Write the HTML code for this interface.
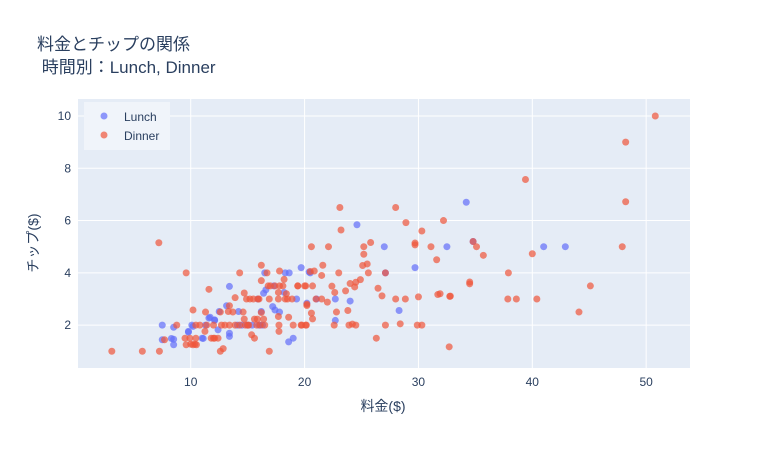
<!DOCTYPE html>
<html><head><meta charset="utf-8">
<style>
html,body{margin:0;padding:0;background:#fff;}
svg text{font-family:"Liberation Sans","Noto Sans CJK JP",sans-serif;fill:#2a3f5f;}
</style></head>
<body>
<svg id="chart" width="765" height="448" xmlns="http://www.w3.org/2000/svg">
  <rect width="765" height="448" fill="#fff"/>
  <text x="37" y="50" font-size="17">料金とチップの関係</text>
  <text x="37" y="73" font-size="17">&#160;時間別：Lunch, Dinner</text>
  <rect x="78" y="99" width="612" height="269" fill="#e5ecf6"/>
  <g id="grid"></g>
  <g id="marks"></g>
  <g id="ticks"></g>
  <text x="383" y="411" font-size="14" text-anchor="middle">料金($)</text>
  <text transform="translate(38,243) rotate(-90)" font-size="14" text-anchor="middle">チップ($)</text>
  <g>
    <rect x="84" y="102" width="86" height="48" fill="#f0f4fa"/>
    <g>
      <circle cx="104" cy="116" r="3.5" fill="#636efa" opacity="0.7"/>
      <text x="124" y="121" font-size="12">Lunch</text>
    </g>
    <g>
      <circle cx="104" cy="135" r="3.5" fill="#EF553B" opacity="0.7"/>
      <text x="124" y="140" font-size="12">Dinner</text>
    </g>
  </g>
</svg>
<script>
const xTicks = [10, 20, 30, 40, 50];
const yTicks = [2, 4, 6, 8, 10];
const lunchBill = [34.2,32.5,34.8,41.0,42.9,24.6,27.0,29.7,19.7,27.1,22.7,24.0,28.3,22.7,19.0,18.6,13.4,16.5,18.3,18.65,20.4,20.5,18.2,16.6,16.4,15.9,13.15,12.5,14.2,16.2,17.2,17.4,19.3,20.2,10.1,9.8,11.3,11.6,12.1,12.4,13.4,13.4,15.4,16.3,14.5,11.0,21.05,7.5,7.5,8.3,8.5,8.5,8.5,9.8,10.2,11.1,11.7,12.1,14.1,15.0,17.3,16.0,17.8];
const lunchTip  = [6.7,5.0,5.2,5.0,5.0,5.84,5.0,4.2,4.2,4.0,3.0,2.92,2.56,2.18,1.5,1.36,3.48,4.0,4.0,4.0,4.03,4.0,3.25,3.35,3.22,3.0,2.74,2.52,2.52,2.52,2.71,2.58,3.0,2.84,2.0,1.76,2.0,2.27,2.18,1.82,1.69,1.57,2.0,2.0,2.0,1.5,3.0,2.0,1.44,1.49,1.46,1.25,1.92,1.73,1.95,1.49,2.3,2.2,2.0,2.0,3.5,2.0,2.5];
const dinnerBill = [50.8,48.2,39.4,48.2,32.2,34.8,35.1,35.7,47.9,40.0,37.9,34.5,34.5,32.8,31.9,37.85,38.6,40.4,45.1,44.1,32.7,
 23.1,28.0,23.2,28.9,30.3,29.7,29.7,31.1,31.6,20.6,22.1,25.2,25.8,25.2,25.1,25.5,21.6,25.6,23.0,27.1,20.5,20.85,21.5,24.9,24.5,24.0,24.4,26.45,26.8,23.6,22.4,22.65,22.0,28.0,28.85,30.0,31.7,32.75,23.8,22.6,23.9,24.2,24.5,27.1,28.4,29.9,30.3,26.3,19.7,20.15,16.9,20.6,20.7,20.2,20.2,19.4,20.1,
 9.6,14.3,16.2,16.7,17.8,16.2,11.6,17.0,17.4,17.8,18.1,18.2,14.7,14.9,15.2,15.5,15.9,13.9,16.9,17.7,18.3,18.9,17.7,18.4,19.4,20.0,10.2,11.3,12.6,13.3,13.4,16.2,16.4,15.6,15.85,14.7,17.7,18.6,
 16.5,16.1,15.8,15.1,14.8,14.3,13.9,13.4,12.7,12.0,11.4,10.8,10.45,17.75,19.75,20.1,11.25,9.5,9.93,11.8,12.4,10.45,9.6,10.2,10.5,17.75,15.35,15.6,12.6,12.85,
 7.2,3.07,5.75,7.25,7.7,8.77,10.0,10.37,12.1,13.0,14.6,15.0,12.0,13.7,16.0,16.8,21.0,20.7,22.8,21.5,19.0,18.5];
const dinnerTip  = [10.0,9.0,7.57,6.72,6.0,5.2,5.0,4.67,5.0,4.73,4.0,3.65,3.58,3.11,3.2,3.0,3.0,3.0,3.5,2.5,1.17,
 6.5,6.5,5.64,5.92,5.6,5.14,5.07,5.0,4.5,5.0,5.0,5.0,5.16,4.71,4.28,4.34,4.29,4.0,4.0,4.0,4.05,4.07,3.9,3.74,3.64,3.59,3.46,3.41,3.12,3.31,3.49,3.25,2.88,3.0,3.0,3.08,3.17,3.1,2.56,2.0,2.0,2.04,2.0,2.0,2.05,2.0,2.0,1.5,2.0,2.0,1.0,2.46,2.24,2.8,2.75,3.5,3.5,
 4.0,4.0,4.29,4.0,4.07,3.7,3.37,3.5,3.5,3.5,3.5,3.75,3.23,3.0,3.0,3.0,3.0,3.05,3.0,3.0,3.0,3.0,3.25,3.2,3.5,3.5,2.58,2.5,2.5,2.52,2.74,2.48,2.23,2.23,2.23,2.23,2.33,2.3,
 2.0,2.0,2.0,2.0,2.0,2.0,2.0,2.0,2.0,2.0,2.0,2.0,2.0,2.0,2.0,2.0,1.76,1.5,1.5,1.5,1.5,1.5,1.25,1.25,1.25,1.76,1.63,1.5,1.0,1.1,
 5.15,1.0,1.0,1.0,1.44,2.0,1.27,1.27,1.5,2.0,2.5,2.0,1.5,2.5,3.0,3.5,3.0,3.5,2.5,3.0,2.0,3.0];

const PL = 78, PR = 690, PT = 99, PB = 368;
const xMin = 0.1, xMax = 53.85, yMin = 0.36, yMax = 10.65;
function xs(v){ return PL + (v - xMin) / (xMax - xMin) * (PR - PL); }
function ys(v){ return PB - (v - yMin) / (yMax - yMin) * (PB - PT); }
const NS = "http://www.w3.org/2000/svg";
const grid = document.getElementById('grid');
const ticks = document.getElementById('ticks');
const marks = document.getElementById('marks');

xTicks.forEach(t => {
  const l = document.createElementNS(NS, 'line');
  l.setAttribute('x1', xs(t)); l.setAttribute('x2', xs(t));
  l.setAttribute('y1', PT); l.setAttribute('y2', PB);
  l.setAttribute('stroke', '#fff'); l.setAttribute('stroke-width', '1');
  
  
  grid.appendChild(l);
  const tx = document.createElementNS(NS, 'text');
  tx.setAttribute('x', xs(t)); tx.setAttribute('y', 386);
  tx.setAttribute('text-anchor', 'middle'); tx.setAttribute('font-size', '12');
  tx.textContent = t;
  
  
  ticks.appendChild(tx);
});
yTicks.forEach(t => {
  const l = document.createElementNS(NS, 'line');
  l.setAttribute('x1', PL); l.setAttribute('x2', PR);
  l.setAttribute('y1', ys(t)); l.setAttribute('y2', ys(t));
  l.setAttribute('stroke', '#fff'); l.setAttribute('stroke-width', '1');
  
  
  grid.appendChild(l);
  const tx = document.createElementNS(NS, 'text');
  tx.setAttribute('x', 71); tx.setAttribute('y', ys(t) + 4);
  tx.setAttribute('text-anchor', 'end'); tx.setAttribute('font-size', '12');
  tx.textContent = t;
  
  
  ticks.appendChild(tx);
});
function drawSeries(bx, ty, color, name){
  bx.forEach((b, i) => {
    const c = document.createElementNS(NS, 'circle');
    c.setAttribute('cx', xs(b)); c.setAttribute('cy', ys(ty[i]));
    c.setAttribute('r', 3.5); c.setAttribute('fill', color); c.setAttribute('opacity', '0.7');
    
    
    marks.appendChild(c);
  });
}
drawSeries(lunchBill, lunchTip, '#636efa', 'lunch-point');
drawSeries(dinnerBill, dinnerTip, '#EF553B', 'dinner-point');
</script>
</body></html>
